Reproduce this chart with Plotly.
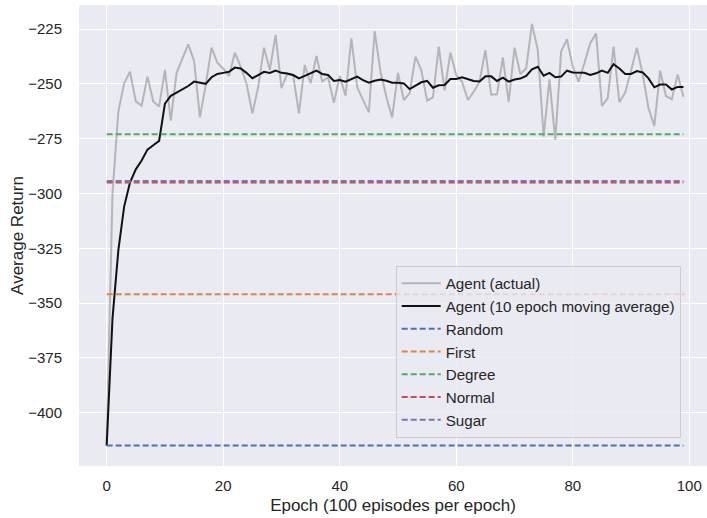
import plotly.graph_objects as go

epochs = list(range(100))

agent_actual = [
    -415, -300, -262.7, -249.8, -244.5, -258, -260, -246.7, -258, -260.4,
    -243.7, -266.8, -245, -238.4, -232, -239.6, -265.3, -250.5, -233.5, -240.4,
    -243, -246.4, -235.8, -242.2, -249.8, -263.5, -251.6, -233.5, -243.7, -227.7,
    -252, -245.5, -246, -263.5, -241.4, -249.8, -237.3, -249, -247, -258.6,
    -246.4, -255.4, -229.3, -251.6, -257.4, -263, -226, -244.5, -255.9, -265.3,
    -245, -257.4, -254.3, -237.6, -243.7, -257.7, -256.2, -233, -253, -235.8,
    -246, -249, -257.4, -253.6, -249, -234.6, -255, -254.8, -238, -258.2,
    -233.5, -245.5, -243, -222.7, -234.6, -274.1, -248, -275.6, -235.3, -229.7,
    -242.2, -249, -240.6, -231.5, -227, -260.1, -256.6, -233, -258.4, -254,
    -244, -233.5, -245.5, -261.2, -269.2, -244, -255.6, -257, -245.8, -255.9,
]

agent_ma = [
    -415, -357, -326, -306, -295, -289, -285, -280, -278, -276,
    -259, -255.5, -254, -252.5, -251, -249, -249.5, -250, -247, -245.5,
    -245, -244.5, -242.6, -243, -245, -247.5, -246, -244.5, -245, -244,
    -245, -245.3, -246, -247.5, -246.4, -245.2, -244, -245.5, -246, -248.7,
    -248.3, -249, -247.8, -246.7, -248.3, -249.5, -248.6, -248, -248.6, -249.5,
    -249.5, -249.8, -252.4, -251, -249.3, -248.7, -251.8, -250.7, -250.5, -247.8,
    -247.8, -247, -247.8, -248.7, -248.9, -246.6, -246.6, -248.7, -247.2, -249,
    -248, -247.6, -246.4, -243.4, -242.2, -246.3, -245, -247, -246.7, -244,
    -244.8, -245, -245, -246, -245.2, -244, -245, -241, -243, -245.5,
    -245.5, -244.2, -244.8, -247.5, -251.6, -250.3, -250.3, -252.6, -251.4, -251.4,
]

baseline_names = ["Random", "First", "Degree", "Normal", "Sugar"]
baseline_values = [-415, -346, -273, -295, -294.3]
baseline_colors = ["#4C72B0", "#DD8452", "#55A868", "#C44E52", "#8172B3"]

FONT = "Liberation Sans, Arial, sans-serif"

fig = go.Figure()
fig.add_trace(go.Scatter(x=epochs, y=agent_actual, mode="lines", name="Agent (actual)",
                         line=dict(color="rgba(128,128,128,0.5)", width=2)))
fig.add_trace(go.Scatter(x=epochs, y=agent_ma, mode="lines",
                         name="Agent (10 epoch moving average)",
                         line=dict(color="#111111", width=2)))
for n, v, c in zip(baseline_names, baseline_values, baseline_colors):
    fig.add_trace(go.Scatter(x=[epochs[0], epochs[-1]], y=[v, v], mode="lines", name=n,
                             line=dict(color=c, width=2, dash="6px,3px")))

fig.update_layout(
    width=707, height=518,
    margin=dict(l=79, r=0, t=5, b=52),
    paper_bgcolor="white",
    plot_bgcolor="#EAEAF2",
    font=dict(family=FONT, size=15, color="#262626"),
    showlegend=True,
    legend=dict(x=0.5043, y=0.434, xanchor="left", yanchor="top",
                bgcolor="rgba(234,234,242,0.8)", bordercolor="#cccccc", borderwidth=1,
                itemwidth=39,
                font=dict(size=15.2, color="#262626")),
)
fig.update_xaxes(range=[-4.75, 103.04], tickvals=[0, 20, 40, 60, 80, 100],
                 showgrid=True, gridcolor="white", gridwidth=1.4, zeroline=False,
                 showline=False, ticks="outside", ticklen=6, tickcolor="rgba(0,0,0,0)",
                 title=dict(text="Epoch (100 episodes per epoch)", font=dict(size=17), standoff=6))
fig.update_yaxes(range=[-424.3, -214.05], tickvals=[-225, -250, -275, -300, -325, -350, -375, -400],
                 ticktext=["−225", "−250", "−275", "−300", "−325", "−350", "−375", "−400"],
                 showgrid=True, gridcolor="white", gridwidth=1.4, zeroline=False,
                 showline=False, ticks="outside", ticklen=13, tickcolor="rgba(0,0,0,0)",
                 title=dict(text="Average Return", font=dict(size=17), standoff=0))

fig.write_html("out.html")
